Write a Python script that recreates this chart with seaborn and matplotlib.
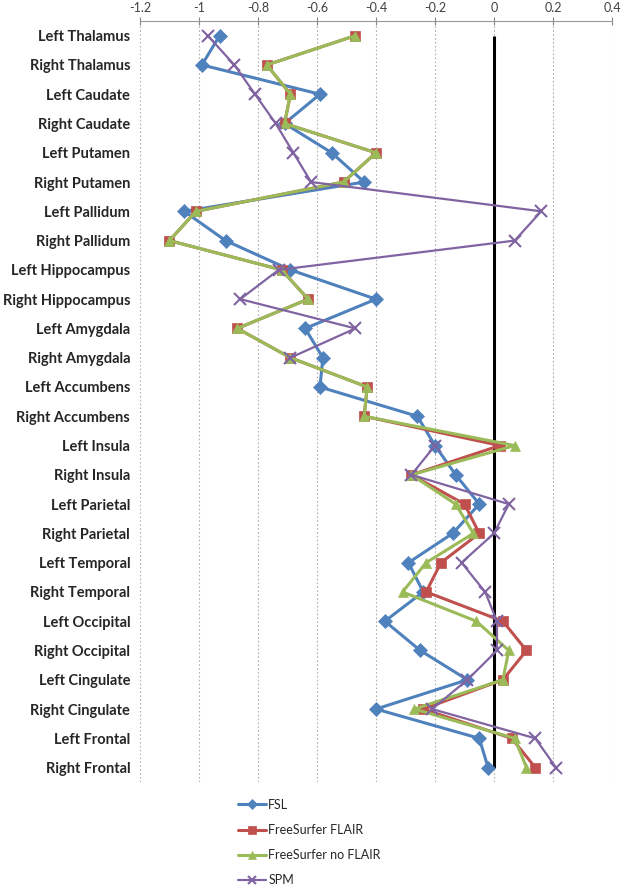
import numpy as np
import pandas as pd
import matplotlib
matplotlib.use("Agg")
import matplotlib.pyplot as plt
import seaborn as sns

# regions, top to bottom
regions = ["Left Thalamus", "Right Thalamus", "Left Caudate", "Right Caudate",
           "Left Putamen", "Right Putamen", "Left Pallidum", "Right Pallidum",
           "Left Hippocampus", "Right Hippocampus", "Left Amygdala", "Right Amygdala",
           "Left Accumbens", "Right Accumbens", "Left Insula", "Right Insula",
           "Left Parietal", "Right Parietal", "Left Temporal", "Right Temporal",
           "Left Occipital", "Right Occipital", "Left Cingulate", "Right Cingulate",
           "Left Frontal", "Right Frontal"]

fsl = [-0.93, -0.99, -0.59, -0.71, -0.55, -0.44, -1.05, -0.91, -0.69, -0.40, -0.64, -0.58, -0.59,
       -0.26, -0.20, -0.13, -0.05, -0.14, -0.29, -0.24, -0.37, -0.25, -0.09, -0.40, -0.05, -0.02]
fs_flair = [-0.47, -0.77, -0.69, -0.71, -0.40, -0.51, -1.01, -1.10, -0.72, -0.63, -0.87, -0.69, -0.43,
            -0.44, 0.02, -0.28, -0.10, -0.05, -0.18, -0.23, 0.03, 0.11, 0.03, -0.24, 0.06, 0.14]
fs_noflair = [-0.47, -0.77, -0.69, -0.71, -0.40, -0.51, -1.01, -1.10, -0.72, -0.63, -0.87, -0.69, -0.43,
              -0.44, 0.07, -0.28, -0.13, -0.07, -0.23, -0.31, -0.06, 0.05, 0.03, -0.27, 0.07, 0.11]
spm = [-0.97, -0.88, -0.81, -0.74, -0.68, -0.62, 0.16, 0.07, -0.73, -0.86, -0.47, -0.69, np.nan,
       np.nan, -0.20, -0.28, 0.05, 0.00, -0.11, -0.03, 0.01, 0.01, -0.09, -0.21, 0.14, 0.21]

series = {"FSL": fsl, "FreeSurfer FLAIR": fs_flair,
          "FreeSurfer no FLAIR": fs_noflair, "SPM": spm}
colors = {"FSL": "#4F81BD", "FreeSurfer FLAIR": "#C0504D",
          "FreeSurfer no FLAIR": "#9BBB59", "SPM": "#8064A2"}
markers = {"FSL": "D", "FreeSurfer FLAIR": "s", "FreeSurfer no FLAIR": "^", "SPM": "x"}

sns.set_style("white")
plt.rcParams['font.family'] = ['Lato', 'DejaVu Sans']

fig = plt.figure(figsize=(6.22, 8.94), dpi=100)
ax = fig.add_axes([0.225, 0.125, 0.759, 0.8515])

pos = np.arange(len(regions))
for name, vals in series.items():
    df = pd.DataFrame({"value": vals, "pos": pos})
    # break the line where values are missing
    df["seg"] = df["value"].isna().cumsum()
    df = df.dropna()
    thin = name == "SPM"
    sns.lineplot(data=df, x="value", y="pos", units="seg", estimator=None,
                 sort=False, orient="y", ax=ax, color=colors[name],
                 marker=markers[name], markersize=7 if not thin else 8.5,
                 markeredgewidth=1.5 if thin else 0.5,
                 markeredgecolor=colors[name],
                 linewidth=1.6 if thin else 2.2, label=name)

ax.vlines(0, 0, len(regions) - 1, color="black", linewidth=2.2, zorder=1)

ax.set_xlim(-1.2, 0.4)
ax.set_ylim(len(regions) - 0.5, -0.5)
ax.set_xticks(np.arange(-1.2, 0.41, 0.2))
ax.set_xticklabels(["-1.2", "-1", "-0.8", "-0.6", "-0.4", "-0.2", "0", "0.2", "0.4"])
ax.set_yticks(pos)
ax.set_yticklabels(regions, fontweight="bold", fontsize=10.5)
ax.xaxis.tick_top()
ax.tick_params(axis="x", direction="inout", length=6, color="#888888",
               labelsize=9, pad=2, labelcolor="#404040")
ax.tick_params(axis="y", length=0, pad=7)
ax.set_xlabel("")
ax.set_ylabel("")
ax.grid(axis="x", color="#B0B0B0", linestyle=(0, (1.5, 2)), linewidth=0.8)
ax.grid(axis="y", visible=False)
for s in ["left", "right", "bottom"]:
    ax.spines[s].set_visible(False)
ax.spines["top"].set_color("#999999")

# one legend entry per series (SPM has two segments)
h, l = ax.get_legend_handles_labels()
uniq = dict(zip(l, h))
if ax.legend_:
    ax.legend_.remove()
fig.legend(list(uniq.values()), list(uniq.keys()), loc="upper left",
           bbox_to_anchor=(0.375, 0.112),
           frameon=False, fontsize=9, handlelength=2.2, labelspacing=1.05,
           handletextpad=0.2, markerscale=0.75, borderaxespad=0)

fig.savefig("out.png", dpi=100)
